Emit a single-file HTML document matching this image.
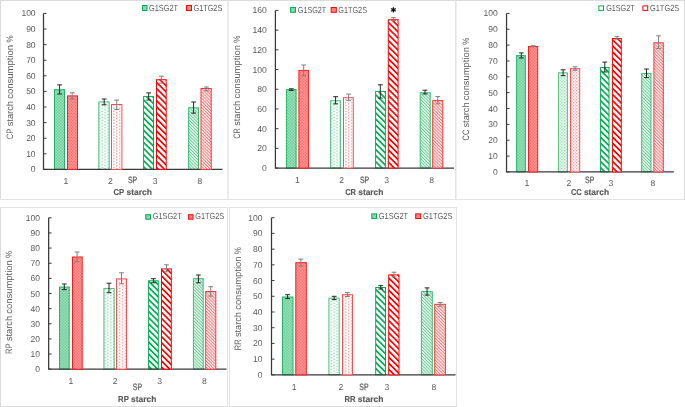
<!DOCTYPE html><html><head><meta charset="utf-8"><style>html,body{margin:0;padding:0;background:#fff;}svg{display:block;filter:blur(0.35px);}text{font-family:"Liberation Sans",sans-serif;text-rendering:geometricPrecision;}</style></head><body>
<svg width="685" height="407" viewBox="0 0 685 407">
<defs>
<pattern id="g1g" patternUnits="userSpaceOnUse" width="3" height="3"><rect width="3" height="3" fill="#9adfba"/><rect width="1.5" height="1.5" fill="#72cf9c"/><rect x="1.5" y="1.5" width="1.5" height="1.5" fill="#72cf9c"/></pattern>
<pattern id="g1r" patternUnits="userSpaceOnUse" width="3" height="3"><rect width="3" height="3" fill="#ff9a9a"/><rect width="1.5" height="1.5" fill="#ff6e6e"/><rect x="1.5" y="1.5" width="1.5" height="1.5" fill="#ff6e6e"/></pattern>
<pattern id="g2g" patternUnits="userSpaceOnUse" width="5.8" height="2.95"><rect width="5.8" height="2.95" fill="#fff"/><rect x="0.2" y="0.2" width="1.1" height="1.1" fill="#45bf78"/><rect x="3.1" y="1.675" width="1.1" height="1.1" fill="#45bf78"/></pattern>
<pattern id="g2cg" patternUnits="userSpaceOnUse" width="3" height="3"><rect width="3" height="3" fill="#fff"/><rect width="1.5" height="1.5" fill="#b4e6c8"/><rect x="1.5" y="1.5" width="1.5" height="1.5" fill="#b4e6c8"/><rect x="0.4" y="0.4" width="0.8" height="0.8" fill="#5cc98c"/></pattern>
<pattern id="g2r" patternUnits="userSpaceOnUse" width="5.8" height="2.95"><rect width="5.8" height="2.95" fill="#fff"/><rect x="0.2" y="0.2" width="1.1" height="1.1" fill="#ff5a5a"/><rect x="3.1" y="1.675" width="1.1" height="1.1" fill="#ff5a5a"/></pattern>
<pattern id="g2cr" patternUnits="userSpaceOnUse" width="3" height="3"><rect width="3" height="3" fill="#fff"/><rect width="1.5" height="1.5" fill="#ffc2c2"/><rect x="1.5" y="1.5" width="1.5" height="1.5" fill="#ffc2c2"/><rect x="0.4" y="0.4" width="0.8" height="0.8" fill="#ff7a7a"/></pattern>
<pattern id="g3g" patternUnits="userSpaceOnUse" width="4.3" height="10" patternTransform="rotate(-45)"><rect width="4.3" height="10" fill="#fff"/><rect width="1.7" height="10" fill="#00b050"/></pattern>
<pattern id="g3r" patternUnits="userSpaceOnUse" width="4.3" height="10" patternTransform="rotate(-45)"><rect width="4.3" height="10" fill="#fff"/><rect width="1.7" height="10" fill="#ff0000"/></pattern>
<pattern id="g4g" patternUnits="userSpaceOnUse" width="2.2" height="10" patternTransform="rotate(-45)"><rect width="2.2" height="10" fill="#fff"/><rect width="1" height="10" fill="#5cc88a"/></pattern>
<pattern id="g4r" patternUnits="userSpaceOnUse" width="2.2" height="10" patternTransform="rotate(-45)"><rect width="2.2" height="10" fill="#fff"/><rect width="1" height="10" fill="#ff6e6e"/></pattern>
</defs>
<rect width="685" height="407" fill="#fff"/>
<rect x="0" y="0" width="1" height="200" fill="#dcdcdc"/>
<rect x="0" y="0" width="228" height="1" fill="#dcdcdc"/>
<rect x="227" y="0" width="1" height="200" fill="#ebebeb"/>
<rect x="0" y="199" width="228" height="1" fill="#e3e3e3"/>
<rect x="228" y="0" width="1" height="200" fill="#ebebeb"/>
<rect x="228" y="0" width="228" height="1" fill="#dcdcdc"/>
<rect x="455" y="0" width="1" height="200" fill="#e3e3e3"/>
<rect x="228" y="199" width="228" height="1" fill="#e3e3e3"/>
<rect x="456" y="0" width="1" height="200" fill="#f0f0f0"/>
<rect x="456" y="0" width="229" height="1" fill="#dcdcdc"/>
<rect x="684" y="0" width="1" height="200" fill="#dcdcdc"/>
<rect x="456" y="199" width="229" height="1" fill="#e3e3e3"/>
<rect x="0" y="207" width="1" height="200" fill="#dcdcdc"/>
<rect x="0" y="207" width="228" height="1" fill="#e3e3e3"/>
<rect x="227" y="207" width="1" height="200" fill="#e3e3e3"/>
<rect x="0" y="406" width="228" height="1" fill="#dcdcdc"/>
<rect x="229" y="207" width="1" height="200" fill="#e3e3e3"/>
<rect x="229" y="207" width="228" height="1" fill="#e3e3e3"/>
<rect x="456" y="207" width="1" height="200" fill="#e3e3e3"/>
<rect x="229" y="406" width="228" height="1" fill="#dcdcdc"/>
<rect x="54.5" y="89.7" width="10" height="79.7" fill="url(#g1g)" stroke="#1cb765" stroke-width="1"/>
<rect x="98.8" y="101.9" width="10.4" height="67.5" fill="url(#g2g)" stroke="#4cc37e" stroke-width="1"/>
<rect x="143.6" y="96.6" width="9.9" height="72.8" fill="url(#g3g)" stroke="#00b050" stroke-width="1"/>
<rect x="188.6" y="107.8" width="9.9" height="61.6" fill="url(#g4g)" stroke="#33c073" stroke-width="1"/>
<path d="M43.5 13.45V169.4H222.5" stroke="#3a3a3a" stroke-width="1.25" fill="none"/>
<rect x="67.5" y="95.9" width="10" height="73.5" fill="url(#g1r)" stroke="#ff1a1a" stroke-width="1"/>
<rect x="111.5" y="104.5" width="10.4" height="64.9" fill="url(#g2r)" stroke="#ff4d4d" stroke-width="1"/>
<rect x="156.5" y="79.7" width="9.7" height="89.7" fill="url(#g3r)" stroke="#ff0000" stroke-width="1"/>
<rect x="201" y="88.5" width="10.2" height="80.9" fill="url(#g4r)" stroke="#ff3333" stroke-width="1"/>
<path d="M59.6 84.9V94M57.2 84.9H62M57.2 94H62" stroke="#262626" stroke-width="1" fill="none"/>
<path d="M72.2 92.8V98.9M69.8 92.8H74.6M69.8 98.9H74.6" stroke="#7f7f7f" stroke-width="1" fill="none"/>
<path d="M104.2 99V104.8M101.8 99H106.6M101.8 104.8H106.6" stroke="#262626" stroke-width="1" fill="none"/>
<path d="M116.7 100.1V109.5M114.3 100.1H119.1M114.3 109.5H119.1" stroke="#7f7f7f" stroke-width="1" fill="none"/>
<path d="M148.7 92.9V100M146.3 92.9H151.1M146.3 100H151.1" stroke="#262626" stroke-width="1" fill="none"/>
<path d="M161.4 76.2V83M159 76.2H163.8M159 83H163.8" stroke="#7f7f7f" stroke-width="1" fill="none"/>
<path d="M193.6 102V113.1M191.2 102H196M191.2 113.1H196" stroke="#262626" stroke-width="1" fill="none"/>
<path d="M206.4 87V90.9M204 87H208.8M204 90.9H208.8" stroke="#7f7f7f" stroke-width="1" fill="none"/>
<text x="35.6" y="172.4" font-size="8.5" fill="#595959" text-anchor="end">0</text>
<text x="35.6" y="156.81" font-size="8.5" fill="#595959" text-anchor="end">10</text>
<text x="35.6" y="141.21" font-size="8.5" fill="#595959" text-anchor="end">20</text>
<text x="35.6" y="125.62" font-size="8.5" fill="#595959" text-anchor="end">30</text>
<text x="35.6" y="110.02" font-size="8.5" fill="#595959" text-anchor="end">40</text>
<text x="35.6" y="94.42" font-size="8.5" fill="#595959" text-anchor="end">50</text>
<text x="35.6" y="78.83" font-size="8.5" fill="#595959" text-anchor="end">60</text>
<text x="35.6" y="63.23" font-size="8.5" fill="#595959" text-anchor="end">70</text>
<text x="35.6" y="47.64" font-size="8.5" fill="#595959" text-anchor="end">80</text>
<text x="35.6" y="32.04" font-size="8.5" fill="#595959" text-anchor="end">90</text>
<text x="35.6" y="16.45" font-size="8.5" fill="#595959" text-anchor="end">100</text>
<path d="M43.5 169.4H46.5M43.5 153.81H46.5M43.5 138.21H46.5M43.5 122.62H46.5M43.5 107.02H46.5M43.5 91.42H46.5M43.5 75.83H46.5M43.5 60.23H46.5M43.5 44.64H46.5M43.5 29.04H46.5M43.5 13.45H46.5" stroke="#3a3a3a" stroke-width="1" fill="none"/>
<text x="65.8" y="184.45" font-size="8.6" fill="#595959" text-anchor="middle">1</text>
<text x="110.4" y="184.45" font-size="8.6" fill="#595959" text-anchor="middle">2</text>
<text x="132.6" y="183.45" font-size="9.2" fill="#595959" stroke="#595959" stroke-width="0.25" text-anchor="middle" textLength="9.3" lengthAdjust="spacingAndGlyphs">SP</text>
<text x="155.2" y="184.45" font-size="8.6" fill="#595959" text-anchor="middle">3</text>
<text x="200" y="184.45" font-size="8.6" fill="#595959" text-anchor="middle">8</text>
<g font-size="8.6" font-weight="bold" fill="#595959" stroke="#595959" stroke-width="0.15"><text x="113.6" y="195.1" textLength="10.62" lengthAdjust="spacingAndGlyphs">CP</text><text x="126.5" y="195.1" textLength="25.3" lengthAdjust="spacingAndGlyphs">starch</text></g>
<g transform="translate(13.1,139.2) rotate(-90)" font-size="9.3" fill="#595959"><text x="0" y="0" textLength="10.6" lengthAdjust="spacingAndGlyphs">CP</text><text x="12.89" y="0" textLength="25.27" lengthAdjust="spacingAndGlyphs">starch</text><text x="40.44" y="0" textLength="53.86" lengthAdjust="spacingAndGlyphs">consumption</text><text x="96.58" y="0" textLength="7.22" lengthAdjust="spacingAndGlyphs">%</text></g>
<rect x="142.5" y="5.5" width="4.5" height="5" fill="url(#g1g)" stroke="#00b050" stroke-width="1"/>
<text x="149" y="10.5" font-size="8.9" fill="#595959" textLength="29" lengthAdjust="spacingAndGlyphs">G1SG2T</text>
<rect x="186.5" y="5.5" width="5" height="5" fill="url(#g1r)" stroke="#ff0000" stroke-width="1"/>
<text x="193.5" y="10.5" font-size="8.9" fill="#595959" textLength="28.8" lengthAdjust="spacingAndGlyphs">G1TG2S</text>
<rect x="286.4" y="89.6" width="9.7" height="78.45" fill="url(#g1g)" stroke="#1cb765" stroke-width="1"/>
<rect x="330.6" y="100.7" width="9.8" height="67.35" fill="url(#g2g)" stroke="#4cc37e" stroke-width="1"/>
<rect x="375.6" y="91.4" width="9.8" height="76.65" fill="url(#g3g)" stroke="#00b050" stroke-width="1"/>
<rect x="420.2" y="92.7" width="10" height="75.35" fill="url(#g4g)" stroke="#33c073" stroke-width="1"/>
<path d="M275.4 10.45V168.05H454" stroke="#3a3a3a" stroke-width="1.25" fill="none"/>
<rect x="298.9" y="70.4" width="9.7" height="97.65" fill="url(#g1r)" stroke="#ff1a1a" stroke-width="1"/>
<rect x="343.5" y="97.7" width="9.8" height="70.35" fill="url(#g2r)" stroke="#ff4d4d" stroke-width="1"/>
<rect x="388.3" y="19.7" width="9.8" height="148.35" fill="url(#g3r)" stroke="#ff0000" stroke-width="1"/>
<rect x="432.7" y="100.6" width="10.1" height="67.45" fill="url(#g4r)" stroke="#ff3333" stroke-width="1"/>
<path d="M291.3 88.8V90.4M288.9 88.8H293.7M288.9 90.4H293.7" stroke="#262626" stroke-width="1" fill="none"/>
<path d="M303.7 65V75.9M301.3 65H306.1M301.3 75.9H306.1" stroke="#7f7f7f" stroke-width="1" fill="none"/>
<path d="M335.6 96.7V103.9M333.2 96.7H338M333.2 103.9H338" stroke="#262626" stroke-width="1" fill="none"/>
<path d="M348.6 94.1V100.3M346.2 94.1H351M346.2 100.3H351" stroke="#7f7f7f" stroke-width="1" fill="none"/>
<path d="M380.3 84.8V98.1M377.9 84.8H382.7M377.9 98.1H382.7" stroke="#262626" stroke-width="1" fill="none"/>
<path d="M393.5 17.7V20.6M391.1 17.7H395.9M391.1 20.6H395.9" stroke="#7f7f7f" stroke-width="1" fill="none"/>
<path d="M425 90.2V94M422.6 90.2H427.4M422.6 94H427.4" stroke="#262626" stroke-width="1" fill="none"/>
<path d="M437.8 96.6V103.8M435.4 96.6H440.2M435.4 103.8H440.2" stroke="#7f7f7f" stroke-width="1" fill="none"/>
<text x="266.8" y="171.05" font-size="8.6" fill="#595959" text-anchor="end">0</text>
<text x="266.8" y="151.35" font-size="8.6" fill="#595959" text-anchor="end">20</text>
<text x="266.8" y="131.65" font-size="8.6" fill="#595959" text-anchor="end">40</text>
<text x="266.8" y="111.95" font-size="8.6" fill="#595959" text-anchor="end">60</text>
<text x="266.8" y="92.25" font-size="8.6" fill="#595959" text-anchor="end">80</text>
<text x="266.8" y="72.55" font-size="8.6" fill="#595959" text-anchor="end">100</text>
<text x="266.8" y="52.85" font-size="8.6" fill="#595959" text-anchor="end">120</text>
<text x="266.8" y="33.15" font-size="8.6" fill="#595959" text-anchor="end">140</text>
<text x="266.8" y="13.45" font-size="8.6" fill="#595959" text-anchor="end">160</text>
<path d="M275.4 168.05H278.4M275.4 148.35H278.4M275.4 128.65H278.4M275.4 108.95H278.4M275.4 89.25H278.4M275.4 69.55H278.4M275.4 49.85H278.4M275.4 30.15H278.4M275.4 10.45H278.4" stroke="#3a3a3a" stroke-width="1" fill="none"/>
<text x="297.5" y="183.2" font-size="8.6" fill="#595959" text-anchor="middle">1</text>
<text x="341.7" y="183.2" font-size="8.6" fill="#595959" text-anchor="middle">2</text>
<text x="364.6" y="183.15" font-size="9.2" fill="#595959" stroke="#595959" stroke-width="0.25" text-anchor="middle" textLength="9.3" lengthAdjust="spacingAndGlyphs">SP</text>
<text x="386.7" y="183.2" font-size="8.6" fill="#595959" text-anchor="middle">3</text>
<text x="431.7" y="183.2" font-size="8.6" fill="#595959" text-anchor="middle">8</text>
<g font-size="8.6" font-weight="bold" fill="#595959" stroke="#595959" stroke-width="0.15"><text x="345.2" y="195.2" textLength="10.81" lengthAdjust="spacingAndGlyphs">CR</text><text x="358.28" y="195.2" textLength="25.13" lengthAdjust="spacingAndGlyphs">starch</text></g>
<g transform="translate(239.7,138.8) rotate(-90)" font-size="9.3" fill="#595959"><text x="0" y="0" textLength="10.77" lengthAdjust="spacingAndGlyphs">CR</text><text x="13.03" y="0" textLength="25.03" lengthAdjust="spacingAndGlyphs">starch</text><text x="40.32" y="0" textLength="53.36" lengthAdjust="spacingAndGlyphs">consumption</text><text x="95.94" y="0" textLength="7.16" lengthAdjust="spacingAndGlyphs">%</text></g>
<rect x="290.6" y="7.5" width="4.9" height="4.8" fill="url(#g1g)" stroke="#00b050" stroke-width="1"/>
<text x="297.8" y="12.6" font-size="8.9" fill="#595959" textLength="28.4" lengthAdjust="spacingAndGlyphs">G1SG2T</text>
<rect x="331.2" y="7.5" width="5.1" height="4.8" fill="url(#g1r)" stroke="#ff0000" stroke-width="1"/>
<text x="338.3" y="12.6" font-size="8.9" fill="#595959" textLength="28.7" lengthAdjust="spacingAndGlyphs">G1TG2S</text>
<path d="M393.4 7.2L393.4 12.6M391.06 8.55L395.74 11.25M395.74 8.55L391.06 11.25" stroke="#111" stroke-width="1.3" stroke-linecap="butt" fill="none"/>
<rect x="516.6" y="55.6" width="8.8" height="116.35" fill="url(#g1g)" stroke="#1cb765" stroke-width="1"/>
<rect x="558.4" y="72.8" width="9" height="99.15" fill="url(#g2cg)" stroke="#4cc37e" stroke-width="1"/>
<rect x="600.6" y="67.5" width="8.4" height="104.45" fill="url(#g3g)" stroke="#00b050" stroke-width="1"/>
<rect x="641.7" y="73.4" width="9.3" height="98.55" fill="url(#g4g)" stroke="#33c073" stroke-width="1"/>
<path d="M506.55 13.4V171.95H673.8" stroke="#3a3a3a" stroke-width="1.25" fill="none"/>
<rect x="528.5" y="46.5" width="9.2" height="125.45" fill="url(#g1r)" stroke="#ff1a1a" stroke-width="1"/>
<rect x="570.5" y="68.7" width="9.2" height="103.25" fill="url(#g2cr)" stroke="#ff4d4d" stroke-width="1"/>
<rect x="612.4" y="38.5" width="8.9" height="133.45" fill="url(#g3r)" stroke="#ff0000" stroke-width="1"/>
<rect x="653.9" y="42.8" width="9.4" height="129.15" fill="url(#g4r)" stroke="#ff3333" stroke-width="1"/>
<path d="M521.3 52.9V58M518.9 52.9H523.7M518.9 58H523.7" stroke="#262626" stroke-width="1" fill="none"/>
<path d="M533.1 45.7V46.7M530.7 45.7H535.5M530.7 46.7H535.5" stroke="#7f7f7f" stroke-width="1" fill="none"/>
<path d="M563.1 69.8V75.7M560.7 69.8H565.5M560.7 75.7H565.5" stroke="#262626" stroke-width="1" fill="none"/>
<path d="M575.1 66.9V70.3M572.7 66.9H577.5M572.7 70.3H577.5" stroke="#7f7f7f" stroke-width="1" fill="none"/>
<path d="M604.8 62.1V72M602.4 62.1H607.2M602.4 72H607.2" stroke="#262626" stroke-width="1" fill="none"/>
<path d="M616.9 36.7V39.2M614.5 36.7H619.3M614.5 39.2H619.3" stroke="#7f7f7f" stroke-width="1" fill="none"/>
<path d="M646.5 69V77.6M644.1 69H648.9M644.1 77.6H648.9" stroke="#262626" stroke-width="1" fill="none"/>
<path d="M658.6 35.8V48.4M656.2 35.8H661M656.2 48.4H661" stroke="#7f7f7f" stroke-width="1" fill="none"/>
<text x="497.7" y="174.95" font-size="8.5" fill="#595959" text-anchor="end">0</text>
<text x="497.7" y="159.09" font-size="8.5" fill="#595959" text-anchor="end">10</text>
<text x="497.7" y="143.24" font-size="8.5" fill="#595959" text-anchor="end">20</text>
<text x="497.7" y="127.38" font-size="8.5" fill="#595959" text-anchor="end">30</text>
<text x="497.7" y="111.53" font-size="8.5" fill="#595959" text-anchor="end">40</text>
<text x="497.7" y="95.67" font-size="8.5" fill="#595959" text-anchor="end">50</text>
<text x="497.7" y="79.82" font-size="8.5" fill="#595959" text-anchor="end">60</text>
<text x="497.7" y="63.96" font-size="8.5" fill="#595959" text-anchor="end">70</text>
<text x="497.7" y="48.11" font-size="8.5" fill="#595959" text-anchor="end">80</text>
<text x="497.7" y="32.25" font-size="8.5" fill="#595959" text-anchor="end">90</text>
<text x="497.7" y="16.4" font-size="8.5" fill="#595959" text-anchor="end">100</text>
<path d="M506.55 171.95H509.55M506.55 156.09H509.55M506.55 140.24H509.55M506.55 124.38H509.55M506.55 108.53H509.55M506.55 92.67H509.55M506.55 76.82H509.55M506.55 60.96H509.55M506.55 45.11H509.55M506.55 29.25H509.55M506.55 13.4H509.55" stroke="#3a3a3a" stroke-width="1" fill="none"/>
<text x="527" y="186.35" font-size="8.6" fill="#595959" text-anchor="middle">1</text>
<text x="568.9" y="186.35" font-size="8.6" fill="#595959" text-anchor="middle">2</text>
<text x="589.7" y="182.85" font-size="9.2" fill="#595959" stroke="#595959" stroke-width="0.25" text-anchor="middle" textLength="9.3" lengthAdjust="spacingAndGlyphs">SP</text>
<text x="610.8" y="186.35" font-size="8.6" fill="#595959" text-anchor="middle">3</text>
<text x="653" y="186.35" font-size="8.6" fill="#595959" text-anchor="middle">8</text>
<g font-size="8.6" font-weight="bold" fill="#595959" stroke="#595959" stroke-width="0.15"><text x="570.9" y="195" textLength="10.74" lengthAdjust="spacingAndGlyphs">CC</text><text x="583.91" y="195" textLength="25.19" lengthAdjust="spacingAndGlyphs">starch</text></g>
<g transform="translate(469,140.4) rotate(-90)" font-size="9.3" fill="#595959"><text x="0" y="0" textLength="10.65" lengthAdjust="spacingAndGlyphs">CC</text><text x="12.91" y="0" textLength="24.98" lengthAdjust="spacingAndGlyphs">starch</text><text x="40.14" y="0" textLength="53.25" lengthAdjust="spacingAndGlyphs">consumption</text><text x="95.66" y="0" textLength="7.14" lengthAdjust="spacingAndGlyphs">%</text></g>
<rect x="598.9" y="5.9" width="4.6" height="4.5" fill="#fff" stroke="#00b050" stroke-width="1"/>
<text x="606.2" y="10.5" font-size="8.9" fill="#595959" textLength="28.4" lengthAdjust="spacingAndGlyphs">G1SG2T</text>
<rect x="642.9" y="5.9" width="4.8" height="4.5" fill="#fff" stroke="#ff0000" stroke-width="1"/>
<text x="650" y="10.5" font-size="8.9" fill="#595959" textLength="29.2" lengthAdjust="spacingAndGlyphs">G1TG2S</text>
<rect x="59.5" y="287" width="9.7" height="82.2" fill="url(#g1g)" stroke="#1cb765" stroke-width="1"/>
<rect x="103.9" y="288.5" width="10.3" height="80.7" fill="url(#g2g)" stroke="#4cc37e" stroke-width="1"/>
<rect x="148.6" y="280.8" width="9.7" height="88.4" fill="url(#g3g)" stroke="#00b050" stroke-width="1"/>
<rect x="193.4" y="278.7" width="9.8" height="90.5" fill="url(#g4g)" stroke="#33c073" stroke-width="1"/>
<path d="M48.65 217.8V369.2H226.5" stroke="#3a3a3a" stroke-width="1.25" fill="none"/>
<rect x="72.5" y="257" width="9.7" height="112.2" fill="url(#g1r)" stroke="#ff1a1a" stroke-width="1"/>
<rect x="116.5" y="278.9" width="10" height="90.3" fill="url(#g2r)" stroke="#ff4d4d" stroke-width="1"/>
<rect x="161.5" y="268.9" width="9.8" height="100.3" fill="url(#g3r)" stroke="#ff0000" stroke-width="1"/>
<rect x="205.7" y="291.5" width="10.1" height="77.7" fill="url(#g4r)" stroke="#ff3333" stroke-width="1"/>
<path d="M64.3 284V289.6M61.9 284H66.7M61.9 289.6H66.7" stroke="#262626" stroke-width="1" fill="none"/>
<path d="M77.1 252V261.6M74.7 252H79.5M74.7 261.6H79.5" stroke="#7f7f7f" stroke-width="1" fill="none"/>
<path d="M109 283.2V292.7M106.6 283.2H111.4M106.6 292.7H111.4" stroke="#262626" stroke-width="1" fill="none"/>
<path d="M121.5 272.8V283.8M119.1 272.8H123.9M119.1 283.8H123.9" stroke="#7f7f7f" stroke-width="1" fill="none"/>
<path d="M153.4 278.7V282.8M151 278.7H155.8M151 282.8H155.8" stroke="#262626" stroke-width="1" fill="none"/>
<path d="M166.5 264.8V271.8M164.1 264.8H168.9M164.1 271.8H168.9" stroke="#7f7f7f" stroke-width="1" fill="none"/>
<path d="M198.4 275V282.8M196 275H200.8M196 282.8H200.8" stroke="#262626" stroke-width="1" fill="none"/>
<path d="M210.7 286.7V296.1M208.3 286.7H213.1M208.3 296.1H213.1" stroke="#7f7f7f" stroke-width="1" fill="none"/>
<text x="39.9" y="372.2" font-size="8.5" fill="#595959" text-anchor="end">0</text>
<text x="39.9" y="357.06" font-size="8.5" fill="#595959" text-anchor="end">10</text>
<text x="39.9" y="341.92" font-size="8.5" fill="#595959" text-anchor="end">20</text>
<text x="39.9" y="326.78" font-size="8.5" fill="#595959" text-anchor="end">30</text>
<text x="39.9" y="311.64" font-size="8.5" fill="#595959" text-anchor="end">40</text>
<text x="39.9" y="296.5" font-size="8.5" fill="#595959" text-anchor="end">50</text>
<text x="39.9" y="281.36" font-size="8.5" fill="#595959" text-anchor="end">60</text>
<text x="39.9" y="266.22" font-size="8.5" fill="#595959" text-anchor="end">70</text>
<text x="39.9" y="251.08" font-size="8.5" fill="#595959" text-anchor="end">80</text>
<text x="39.9" y="235.94" font-size="8.5" fill="#595959" text-anchor="end">90</text>
<text x="39.9" y="220.8" font-size="8.5" fill="#595959" text-anchor="end">100</text>
<path d="M48.65 369.2H51.65M48.65 354.06H51.65M48.65 338.92H51.65M48.65 323.78H51.65M48.65 308.64H51.65M48.65 293.5H51.65M48.65 278.36H51.65M48.65 263.22H51.65M48.65 248.08H51.65M48.65 232.94H51.65M48.65 217.8H51.65" stroke="#3a3a3a" stroke-width="1" fill="none"/>
<text x="71" y="384" font-size="8.6" fill="#595959" text-anchor="middle">1</text>
<text x="115.1" y="384" font-size="8.6" fill="#595959" text-anchor="middle">2</text>
<text x="137.45" y="390.15" font-size="9.2" fill="#595959" stroke="#595959" stroke-width="0.25" text-anchor="middle" textLength="9.3" lengthAdjust="spacingAndGlyphs">SP</text>
<text x="159.6" y="384" font-size="8.6" fill="#595959" text-anchor="middle">3</text>
<text x="204.4" y="384" font-size="8.6" fill="#595959" text-anchor="middle">8</text>
<g font-size="8.6" font-weight="bold" fill="#595959" stroke="#595959" stroke-width="0.15"><text x="118.1" y="402.3" textLength="10.69" lengthAdjust="spacingAndGlyphs">RP</text><text x="131.07" y="402.3" textLength="25.24" lengthAdjust="spacingAndGlyphs">starch</text></g>
<g transform="translate(11.7,354) rotate(-90)" font-size="9.3" fill="#595959"><text x="0" y="0" textLength="10.64" lengthAdjust="spacingAndGlyphs">RP</text><text x="12.91" y="0" textLength="25.12" lengthAdjust="spacingAndGlyphs">starch</text><text x="40.3" y="0" textLength="53.55" lengthAdjust="spacingAndGlyphs">consumption</text><text x="96.12" y="0" textLength="7.18" lengthAdjust="spacingAndGlyphs">%</text></g>
<rect x="145.7" y="214.7" width="4.8" height="4.5" fill="url(#g1g)" stroke="#00b050" stroke-width="1"/>
<text x="152.8" y="219.4" font-size="8.9" fill="#595959" textLength="28.8" lengthAdjust="spacingAndGlyphs">G1SG2T</text>
<rect x="188.6" y="214.7" width="4.5" height="4.5" fill="url(#g1r)" stroke="#ff0000" stroke-width="1"/>
<text x="195.3" y="219.4" font-size="8.9" fill="#595959" textLength="28.9" lengthAdjust="spacingAndGlyphs">G1TG2S</text>
<rect x="282.5" y="297" width="10.5" height="77.85" fill="url(#g1g)" stroke="#1cb765" stroke-width="1"/>
<rect x="328.9" y="298.1" width="10.3" height="76.75" fill="url(#g2g)" stroke="#4cc37e" stroke-width="1"/>
<rect x="375.7" y="287.5" width="9.8" height="87.35" fill="url(#g3g)" stroke="#00b050" stroke-width="1"/>
<rect x="421.4" y="291.6" width="10.9" height="83.25" fill="url(#g4g)" stroke="#33c073" stroke-width="1"/>
<path d="M271.5 217.7V374.85H455.5" stroke="#3a3a3a" stroke-width="1.25" fill="none"/>
<rect x="295.8" y="262.7" width="10.5" height="112.15" fill="url(#g1r)" stroke="#ff1a1a" stroke-width="1"/>
<rect x="342.5" y="294.7" width="10" height="80.15" fill="url(#g2r)" stroke="#ff4d4d" stroke-width="1"/>
<rect x="388.7" y="274.9" width="10.3" height="99.95" fill="url(#g3r)" stroke="#ff0000" stroke-width="1"/>
<rect x="434.7" y="304.3" width="10.7" height="70.55" fill="url(#g4r)" stroke="#ff3333" stroke-width="1"/>
<path d="M287.6 294.7V298.6M285.2 294.7H290M285.2 298.6H290" stroke="#262626" stroke-width="1" fill="none"/>
<path d="M300.9 259.1V266M298.5 259.1H303.3M298.5 266H303.3" stroke="#7f7f7f" stroke-width="1" fill="none"/>
<path d="M334.2 296.3V299.6M331.8 296.3H336.6M331.8 299.6H336.6" stroke="#262626" stroke-width="1" fill="none"/>
<path d="M347.4 292.6V296.5M345 292.6H349.8M345 296.5H349.8" stroke="#7f7f7f" stroke-width="1" fill="none"/>
<path d="M380.7 285.7V289M378.3 285.7H383.1M378.3 289H383.1" stroke="#262626" stroke-width="1" fill="none"/>
<path d="M394 272.2V276.9M391.6 272.2H396.4M391.6 276.9H396.4" stroke="#7f7f7f" stroke-width="1" fill="none"/>
<path d="M427.1 287.9V295.1M424.7 287.9H429.5M424.7 295.1H429.5" stroke="#262626" stroke-width="1" fill="none"/>
<path d="M440.2 302.5V306.1M437.8 302.5H442.6M437.8 306.1H442.6" stroke="#7f7f7f" stroke-width="1" fill="none"/>
<text x="262.4" y="377.85" font-size="8.5" fill="#595959" text-anchor="end">0</text>
<text x="262.4" y="362.13" font-size="8.5" fill="#595959" text-anchor="end">10</text>
<text x="262.4" y="346.42" font-size="8.5" fill="#595959" text-anchor="end">20</text>
<text x="262.4" y="330.71" font-size="8.5" fill="#595959" text-anchor="end">30</text>
<text x="262.4" y="314.99" font-size="8.5" fill="#595959" text-anchor="end">40</text>
<text x="262.4" y="299.27" font-size="8.5" fill="#595959" text-anchor="end">50</text>
<text x="262.4" y="283.56" font-size="8.5" fill="#595959" text-anchor="end">60</text>
<text x="262.4" y="267.85" font-size="8.5" fill="#595959" text-anchor="end">70</text>
<text x="262.4" y="252.13" font-size="8.5" fill="#595959" text-anchor="end">80</text>
<text x="262.4" y="236.41" font-size="8.5" fill="#595959" text-anchor="end">90</text>
<text x="262.4" y="220.7" font-size="8.5" fill="#595959" text-anchor="end">100</text>
<path d="M271.5 374.85H274.5M271.5 359.13H274.5M271.5 343.42H274.5M271.5 327.71H274.5M271.5 311.99H274.5M271.5 296.27H274.5M271.5 280.56H274.5M271.5 264.85H274.5M271.5 249.13H274.5M271.5 233.41H274.5M271.5 217.7H274.5" stroke="#3a3a3a" stroke-width="1" fill="none"/>
<text x="294.2" y="389.8" font-size="8.6" fill="#595959" text-anchor="middle">1</text>
<text x="340.8" y="389.8" font-size="8.6" fill="#595959" text-anchor="middle">2</text>
<text x="363.9" y="390.4" font-size="9.2" fill="#595959" stroke="#595959" stroke-width="0.25" text-anchor="middle" textLength="9.3" lengthAdjust="spacingAndGlyphs">SP</text>
<text x="387" y="389.8" font-size="8.6" fill="#595959" text-anchor="middle">3</text>
<text x="434" y="389.8" font-size="8.6" fill="#595959" text-anchor="middle">8</text>
<g font-size="8.6" font-weight="bold" fill="#595959" stroke="#595959" stroke-width="0.15"><text x="344.4" y="402.4" textLength="11.11" lengthAdjust="spacingAndGlyphs">RR</text><text x="357.82" y="402.4" textLength="25.59" lengthAdjust="spacingAndGlyphs">starch</text></g>
<g transform="translate(241,350.2) rotate(-90)" font-size="9.3" fill="#595959"><text x="0" y="0" textLength="10.85" lengthAdjust="spacingAndGlyphs">RR</text><text x="13.11" y="0" textLength="25.01" lengthAdjust="spacingAndGlyphs">starch</text><text x="40.38" y="0" textLength="53.31" lengthAdjust="spacingAndGlyphs">consumption</text><text x="95.95" y="0" textLength="7.15" lengthAdjust="spacingAndGlyphs">%</text></g>
<rect x="371.8" y="213.9" width="4.7" height="4.6" fill="url(#g1g)" stroke="#00b050" stroke-width="1"/>
<text x="378.7" y="218.8" font-size="8.9" fill="#595959" textLength="29.5" lengthAdjust="spacingAndGlyphs">G1SG2T</text>
<rect x="415.7" y="213.9" width="5" height="4.6" fill="url(#g1r)" stroke="#ff0000" stroke-width="1"/>
<text x="423" y="218.8" font-size="8.9" fill="#595959" textLength="29.4" lengthAdjust="spacingAndGlyphs">G1TG2S</text>
</svg></body></html>
